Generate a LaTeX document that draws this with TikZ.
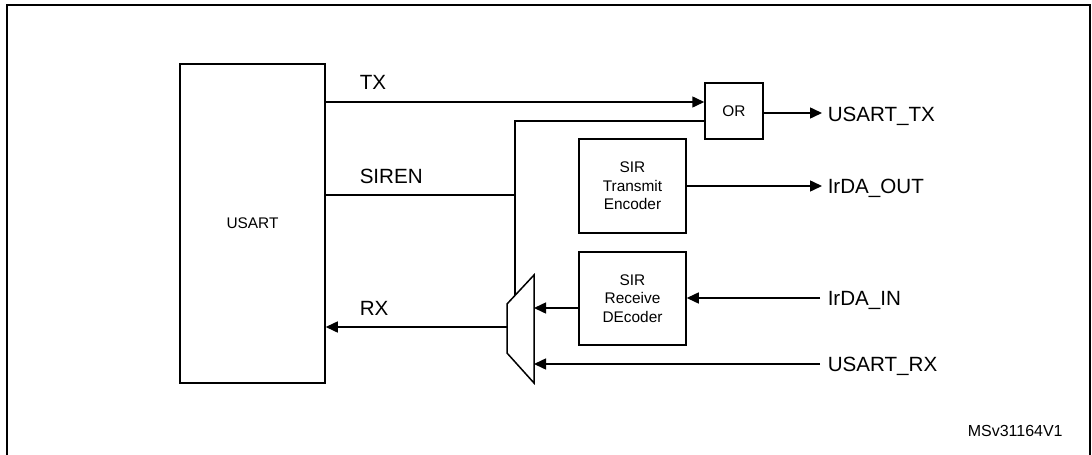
\documentclass[tikz,border=0pt]{standalone}
\usepackage{fontspec}
\setmainfont{Liberation Sans}
\usetikzlibrary{arrows.meta}
\begin{document}
\begin{tikzpicture}[x=1pt,y=-1pt,
  every path/.style={line width=1.5pt},
  blk/.style={draw,rectangle,inner sep=0pt,line width=1.5pt,align=center},
  arr/.style={-{Triangle[length=12pt,width=11pt]}},
  big/.style={font=\fontsize{20.6}{24}\selectfont},
  small/.style={font=\fontsize{15.4}{18.5}\selectfont}]
\useasboundingbox (0,0) rectangle (1092,455);
\draw[line width=2pt] (7,455) -- (7,5) -- (1090,5) -- (1090,455);
% blocks
\node[blk,minimum width=145pt,minimum height=319pt,small] (usart) at (252.5,223.5) {USART};
\node[blk,minimum width=58pt,minimum height=56pt,small] (or) at (734,111) {OR};
\node[blk,minimum width=107pt,minimum height=94pt,small] (enc) at (632.5,186) {SIR\\Transmit\\Encoder};
\node[blk,minimum width=107pt,minimum height=93pt,small] (dec) at (632.5,298.5) {SIR\\Receive\\DEcoder};
% mux
\coordinate (mtl) at (507,304);
\coordinate (mbl) at (507,353);
\coordinate (mtr) at (534,275);
\coordinate (mbr) at (534,383);
\draw (mtl) -- (mtr) -- (mbr) -- (mbl) -- cycle;
\coordinate (muxin) at (515,295);
% helper coordinates
\coordinate (ytx) at (0,102);
\coordinate (ysel) at (0,121);
\coordinate (ysir) at (0,195);
\coordinate (yrx) at (0,327);
\coordinate (ydm) at (0,308);
\coordinate (yurx) at (0,364);
\coordinate (otx) at (822,113);
\coordinate (oout) at (822,186);
\coordinate (iin) at (820,298);
\coordinate (irx) at (820,364);
% connectors
\draw[arr] (usart.east |- ytx) -- (or.west |- ytx);
\draw (or.west |- ysel) -- (muxin |- ysel) -- (muxin);
\draw (usart.east |- ysir) -- (muxin |- ysir);
\draw[arr] (or.east |- otx) -- (otx);
\draw[arr] (enc.east) -- (oout);
\draw[arr] (iin) -- (dec.east |- iin);
\draw[arr] (dec.west |- ydm) -- (mtr |- ydm);
\draw[arr] (irx) -- (mbr |- irx);
\draw[arr] (mtl |- yrx) -- (usart.east |- yrx);
% labels
\node[big,anchor=base west,inner sep=0pt] (ltx) at (359,89) {TX};
\node[big,anchor=base west,inner sep=0pt] (lsiren) at (359,183) {SIREN};
\node[big,anchor=base west,inner sep=0pt] (lrx) at (359,315) {RX};
\node[big,anchor=base west,inner sep=0pt] (lutx) at (827,121) {USART\_TX};
\node[big,anchor=base west,inner sep=0pt] (lout) at (827,193) {IrDA\_OUT};
\node[big,anchor=base west,inner sep=0pt] (lin) at (827,305) {IrDA\_IN};
\node[big,anchor=base west,inner sep=0pt] (lurx) at (827,371) {USART\_RX};
\node[font=\fontsize{16}{19}\selectfont,anchor=base west,inner sep=0pt] (ref) at (967,436) {MSv31164V1};
\end{tikzpicture}
\end{document}
